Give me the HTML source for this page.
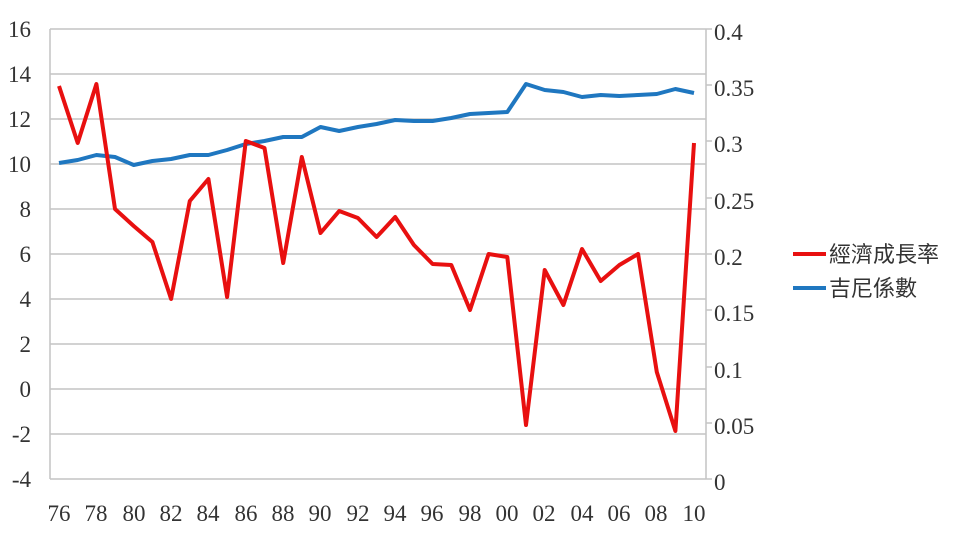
<!DOCTYPE html>
<html><head><meta charset="utf-8"><style>
body{margin:0;background:#fff;}
text{font-family:"Liberation Serif","Noto Serif CJK SC",serif;fill:#333;font-size:23px;}
.cj{font-family:"Liberation Sans","Noto Sans CJK TC",sans-serif;font-size:22px;}
</style></head><body>
<svg width="964" height="540" xmlns="http://www.w3.org/2000/svg">
<g stroke="#c4c4c4" stroke-width="1.5">
<line x1="50" y1="29" x2="706" y2="29"/><line x1="50" y1="74" x2="706" y2="74"/>
<line x1="50" y1="119" x2="706" y2="119"/><line x1="50" y1="164" x2="706" y2="164"/>
<line x1="50" y1="209" x2="706" y2="209"/><line x1="50" y1="254" x2="706" y2="254"/>
<line x1="50" y1="299" x2="706" y2="299"/><line x1="50" y1="344" x2="706" y2="344"/>
<line x1="50" y1="389" x2="706" y2="389"/><line x1="50" y1="434" x2="706" y2="434"/>
<line x1="50" y1="479" x2="706" y2="479"/>
<line x1="50" y1="29" x2="50" y2="479"/><line x1="706" y1="29" x2="706" y2="479"/>
<line x1="706" y1="29" x2="712" y2="29"/><line x1="706" y1="85" x2="712" y2="85"/>
<line x1="706" y1="141" x2="712" y2="141"/><line x1="706" y1="198" x2="712" y2="198"/>
<line x1="706" y1="254" x2="712" y2="254"/><line x1="706" y1="310" x2="712" y2="310"/>
<line x1="706" y1="367" x2="712" y2="367"/><line x1="706" y1="423" x2="712" y2="423"/>
<line x1="706" y1="479" x2="712" y2="479"/>
</g>
<g text-anchor="end">
<text x="31" y="37">16</text><text x="31" y="82">14</text><text x="31" y="127">12</text>
<text x="31" y="172">10</text><text x="31" y="217">8</text><text x="31" y="262">6</text>
<text x="31" y="307">4</text><text x="31" y="352">2</text><text x="31" y="397">0</text>
<text x="31" y="442">-2</text><text x="31" y="487">-4</text>
</g>
<g>
<text x="714" y="40">0.4</text><text x="714" y="96">0.35</text><text x="714" y="152">0.3</text>
<text x="714" y="209">0.25</text><text x="714" y="265">0.2</text><text x="714" y="321">0.15</text>
<text x="714" y="378">0.1</text><text x="714" y="434">0.05</text><text x="714" y="490">0</text>
</g>
<g text-anchor="middle">
<text x="59" y="521">76</text><text x="96" y="521">78</text><text x="134" y="521">80</text>
<text x="171" y="521">82</text><text x="208" y="521">84</text><text x="246" y="521">86</text>
<text x="283" y="521">88</text><text x="320" y="521">90</text><text x="358" y="521">92</text>
<text x="395" y="521">94</text><text x="432" y="521">96</text><text x="470" y="521">98</text>
<text x="507" y="521">00</text><text x="544" y="521">02</text><text x="582" y="521">04</text>
<text x="619" y="521">06</text><text x="656" y="521">08</text><text x="694" y="521">10</text>
</g>
<polyline fill="none" stroke="#1f77c0" stroke-width="4" stroke-linejoin="round" points="59,163 77.7,160 96.4,155 115,157 133.7,165 152.4,161 171.1,159 189.8,155 208.4,155 227.1,150 245.8,144 264.5,141 283.2,137 301.8,137 320.5,127 339.2,131 357.9,127 376.6,124 395.2,120 413.9,121 432.6,121 451.3,118 470,114 488.6,113 507.3,112 526,84 544.7,90 563.4,92 582,97 600.7,95 619.4,96 638.1,95 656.8,94 675.4,89 694,93"/>
<polyline fill="none" stroke="#e81010" stroke-width="4" stroke-linejoin="round" points="59,86 77.7,143 96.4,84 115,209 133.7,226 152.4,242 171.1,299 189.8,201 208.4,179 227.1,297 245.8,141 264.5,148 283.2,263 301.8,157 320.5,233 339.2,211 357.9,218 376.6,237 395.2,217 413.9,245 432.6,264 451.3,265 470,310 488.6,254 507.3,257 526,425 544.7,270 563.4,305 582,249 600.7,281 619.4,265 638.1,254 656.8,372 675.4,431 694,143"/>
<line x1="793" y1="254" x2="826" y2="254" stroke="#e81010" stroke-width="4"/>
<text class="cj" x="829" y="262">經濟成長率</text>
<line x1="793" y1="288" x2="826" y2="288" stroke="#1f77c0" stroke-width="4"/>
<text class="cj" x="829" y="296">吉尼係數</text>
</svg>
</body></html>
